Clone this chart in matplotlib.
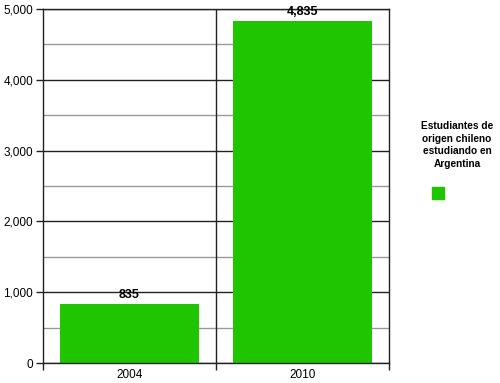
import matplotlib
matplotlib.use("Agg")
import matplotlib.pyplot as plt
from matplotlib.ticker import MultipleLocator, FuncFormatter

categories = ["2004", "2010"]
values = [835, 4835]
legend_label = "Estudiantes de\norigen chileno\nestudiando en\nArgentina"
bar_color = "#1fc600"

plt.rcParams['font.family'] = ['Liberation Sans', 'DejaVu Sans']

fig = plt.figure(figsize=(5.0, 3.83), dpi=100)
ax = fig.add_axes([0.086, 0.0522, 0.692, 0.9243])

x = list(range(len(categories)))
ax.bar(x, values, width=0.8, color=bar_color, zorder=3)

ax.set_xlim(-0.5, len(categories) - 0.5)
ax.set_ylim(0, 5000)

# y grid
ax.yaxis.set_major_locator(MultipleLocator(1000))
ax.yaxis.set_minor_locator(MultipleLocator(500))
ax.yaxis.set_major_formatter(FuncFormatter(lambda v, p: f"{int(v):,}"))
ax.grid(axis='y', which='major', color='#222222', linewidth=1.0, zorder=1)
ax.grid(axis='y', which='minor', color='#999999', linewidth=1.0, zorder=1)
ax.tick_params(axis='y', which='major', length=5, width=1, color='#222222', labelsize=8.5, pad=2)
ax.tick_params(axis='y', which='minor', length=0)

# x ticks at category boundaries, labels at centers
bounds = [i - 0.5 for i in range(len(categories) + 1)]
ax.set_xticks(bounds)
ax.set_xticklabels([""] * len(bounds))
ax.set_xticks(x, minor=True)
ax.set_xticklabels(categories, minor=True)
ax.tick_params(axis='x', which='major', length=5, width=1, color='#222222')
ax.tick_params(axis='x', which='minor', length=0, labelsize=8.5, pad=4)
for b in bounds[1:-1]:
    ax.axvline(b, color='#222222', linewidth=1.0, zorder=2)

for s in ['left', 'bottom', 'right', 'top']:
    ax.spines[s].set_color('#222222')
    ax.spines[s].set_linewidth(1.0)
    ax.spines[s].set_zorder(4)

for xi, v in zip(x, values):
    ax.annotate(f"{v:,}", (xi, v), xytext=(0, 2), textcoords='offset points',
                ha='center', va='bottom', fontsize=9, fontweight='bold', zorder=5)

# legend
fig.text(457 / 500, 1 - 145 / 383, legend_label, ha='center', va='center',
         fontsize=7.3, fontweight='bold', linespacing=1.33)
fig.patches.append(plt.Rectangle((432 / 500, 1 - 199 / 383), 12 / 500, 12 / 383,
                                 transform=fig.transFigure, color=bar_color))

fig.savefig("out.png", dpi=100)
